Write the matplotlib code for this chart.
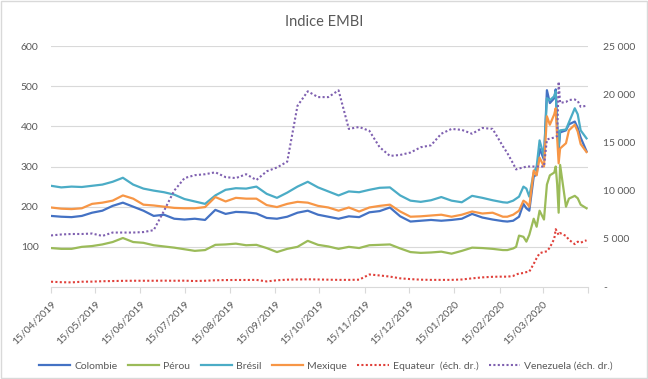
import matplotlib
matplotlib.use("Agg")
import matplotlib.pyplot as plt
import pandas as pd
from matplotlib.patches import Rectangle
from matplotlib.ticker import FuncFormatter

plt.rcParams['font.family'] = ['Lato', 'DejaVu Sans']

# dates : hebdo jusqu'a mi-fevrier 2020, puis plus serre pendant la crise
weekly_dates = pd.date_range('2019-04-15', '2020-02-17', freq='7D')
crisis_dates = pd.to_datetime([
    '2020-02-20', '2020-02-24', '2020-02-26', '2020-02-28', '2020-03-02', '2020-03-04',
    '2020-03-06', '2020-03-09', '2020-03-11', '2020-03-13', '2020-03-16', '2020-03-18',
    '2020-03-20', '2020-03-23', '2020-03-24', '2020-03-25', '2020-03-26', '2020-03-27',
    '2020-03-31', '2020-04-02', '2020-04-06', '2020-04-08', '2020-04-10', '2020-04-14'])
dates = weekly_dates.append(crisis_dates)

# echelle gauche (pb)
colombie = [177, 175, 174, 177, 185, 190, 202, 210, 200, 190,
            177, 180, 170, 168, 170, 167, 192, 182, 187, 186,
            183, 172, 170, 175, 185, 190, 180, 175, 170, 176,
            174, 186, 189, 198, 176, 163, 165, 167, 165, 167,
            170, 182, 173, 168, 164,
            163, 165, 170, 175, 207, 196, 190, 275, 280, 345, 317, 490,
            458, 470, 492, 400, 342, 385, 390, 405, 412, 396, 372, 338]
perou = [97, 95, 95, 100, 102, 106, 112, 122, 112, 110,
         104, 101, 98, 94, 90, 92, 105, 106, 108, 104,
         105, 97, 87, 95, 100, 115, 105, 101, 95, 100,
         97, 104, 105, 106, 96, 87, 85, 86, 88, 83,
         90, 98, 97, 95, 92,
         92, 96, 100, 128, 125, 113, 130, 170, 150, 190, 168, 255,
         278, 285, 300, 255, 185, 304, 200, 220, 227, 221, 205, 196]
bresil = [252, 248, 250, 249, 252, 255, 262, 272, 255, 245,
          240, 236, 230, 219, 213, 207, 228, 242, 246, 245,
          250, 232, 222, 235, 250, 262, 248, 238, 228, 238,
          236, 242, 247, 248, 228, 215, 212, 216, 224, 215,
          211, 227, 222, 216, 211,
          210, 215, 220, 225, 250, 245, 225, 285, 300, 365, 325, 470,
          465, 475, 487, 400, 350, 390, 392, 410, 445, 430, 390, 370]
mexique = [198, 195, 194, 196, 207, 210, 215, 228, 220, 205,
           203, 200, 197, 196, 196, 199, 224, 213, 222, 220,
           220, 204, 199, 207, 212, 210, 202, 198, 190, 198,
           188, 198, 202, 205, 188, 175, 176, 178, 180, 175,
           180, 188, 183, 185, 175,
           175, 180, 185, 190, 215, 210, 200, 290, 278, 322, 300, 425,
           404, 430, 445, 370, 308, 345, 358, 390, 404, 387, 356, 336]

# echelle droite (pb)
equateur = [550, 500, 480, 550, 560, 600, 620, 640, 650, 650,
            650, 660, 650, 660, 620, 650, 700, 720, 730, 730,
            740, 580, 700, 760, 780, 800, 780, 760, 740, 740,
            760, 1300, 1200, 1080, 900, 820, 760, 740, 740, 740,
            780, 900, 1000, 1060, 1080,
            1070, 1150, 1300, 1400, 1450, 1550, 1600, 2400, 3000, 3500, 3650, 3700,
            4100, 5000, 6000, 5700, 5400, 5600, 5300, 4900, 4450, 4700, 4600, 4850]
venezuela = [5350, 5450, 5500, 5500, 5550, 5300, 5650, 5650, 5650, 5700,
             5900, 7900, 10000, 11300, 11600, 11700, 11900, 11400, 11300, 11700,
             11100, 12000, 12400, 13000, 18800, 20300, 19700, 19700, 20400, 16400,
             16600, 16200, 14500, 13600, 13700, 13950, 14500, 14700, 15900, 16400,
             16300, 15900, 16500, 16400, 14600,
             13900, 12800, 12200, 12300, 12400, 12500, 12500, 12500, 12500, 12500, 12500, 15300,
             15400, 15500, 15600, 15650, 21300, 19100, 19200, 19400, 19450, 19300, 18700, 18800]

left_series = [('Colombie', colombie, '#4472C4'),
               ('Pérou', perou, '#9BBB59'),
               ('Brésil', bresil, '#4BACC6'),
               ('Mexique', mexique, '#F79646')]
right_series = [('Equateur  (éch. dr.)', equateur, '#E0403A'),
                ('Venezuela (éch. dr.)', venezuela, '#7F60B0')]

tick_dates = pd.date_range('2019-04-01', '2020-04-01', freq='MS') + pd.Timedelta(days=14)
tick_labels = [d.strftime('%d/%m/%Y') for d in tick_dates[:-1]] + ['']

grey = '#595959'
light = '#D9D9D9'

fig = plt.figure(figsize=(6.48, 3.79), dpi=100)
ax = fig.add_axes([0.0787, 0.2427, 0.8287, 0.6359])
ax2 = ax.twinx()

handles = []
for label, values, color in left_series:
    h, = ax.plot(dates, values, color=color, lw=1.6, label=label)
    handles.append(h)
for label, values, color in right_series:
    h, = ax2.plot(dates, values, color=color, lw=1.5, ls=(0, (1, 1.1)), label=label)
    handles.append(h)

ax.set_xlim(tick_dates[0], tick_dates[-1])
ax.set_ylim(0, 600)
ax2.set_ylim(0, 25000)

ax.set_yticks(range(100, 601, 100))
ax.yaxis.grid(True, color=light, lw=0.8)
ax.set_axisbelow(True)
ax.tick_params(axis='y', length=0, labelsize=7.5, labelcolor=grey, pad=9)

ax2.set_yticks(range(0, 25001, 5000))
ax2.yaxis.set_major_formatter(FuncFormatter(
    lambda v, p: '-' if v == 0 else f'{v:,.0f}'.replace(',', ' ')))
ax2.tick_params(axis='y', length=0, labelsize=7.5, labelcolor=grey, pad=11)

ax.set_xticks(tick_dates)
ax.set_xticklabels(tick_labels, rotation=45, ha='right', rotation_mode='anchor')
ax.tick_params(axis='x', length=4, color=light, labelsize=7.5, labelcolor=grey, pad=5)

for a in (ax, ax2):
    for side in ('top', 'left', 'right'):
        a.spines[side].set_visible(False)
ax.spines['bottom'].set_color(light)
ax2.spines['bottom'].set_visible(False)

fig.text(0.5, 1 - 22 / 379, 'Indice EMBI', ha='center', va='center',
         fontsize=10.5, color=grey)

fig.legend(handles, [h.get_label() for h in handles], loc='center',
           bbox_to_anchor=(0.503, 0.035), ncol=6, frameon=False, fontsize=7.5,
           handlelength=3.0, handletextpad=0.4, columnspacing=1.0, labelcolor=grey)

fig.patches.append(Rectangle((0.001, 0.002), 0.997, 0.995, transform=fig.transFigure,
                             fill=False, edgecolor=light, lw=1))

fig.savefig('out.png', dpi=100)
